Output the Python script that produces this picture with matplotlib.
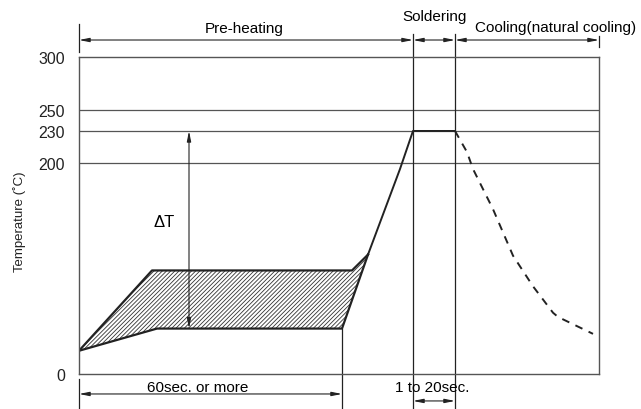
import numpy as np
import matplotlib
matplotlib.use("Agg")
import matplotlib.pyplot as plt

plt.rcParams['font.family'] = ['Liberation Sans', 'DejaVu Sans']
plt.rcParams['hatch.linewidth'] = 0.6

# temperature levels (deg C) shown as reference lines / tick labels
y_ticks = [0, 200, 230, 250, 300]
ref_lines = [200, 230, 250]

# time axis is in arbitrary units (no ticks on the original)
x_end = 520
solder_start = 334
solder_end = 376
preheat_end = 263

# pre-heating band (hatched area)
upper_x = [0, 73, 273, 289]
upper_y = [22, 98, 98, 113]
lower_x = [0, 78, 263, 289]
lower_y = [22, 43, 43, 113]

# ramp up to soldering temperature and hold
ramp_x = [289, 321, 334, 376]
ramp_y = [113, 194, 230, 230]

# natural cooling (dashed)
cool_x = [376, 388, 394, 414, 434, 454, 474, 479, 514]
cool_y = [230, 210, 194, 156, 112, 83, 58, 54, 38]

line_col = '#222222'
grid_col = '#555555'

fig = plt.figure(figsize=(6.41, 4.10), dpi=100)
ax = fig.add_axes([79/641, 35/410, 520/641, 317/410])
ax.set_xlim(0, x_end)
ax.set_ylim(0, 300)

for s in ax.spines.values():
    s.set_color(grid_col)
    s.set_linewidth(1)
ax.set_xticks([])
ax.set_yticks(y_ticks)
ax.tick_params(axis='y', length=0, pad=10, labelsize=11.5, colors='#222222')
# y label placed by hand like the original drawing
fig.text(20/641, 1 - 222/410, 'Temperature (˚C)', rotation=90, ha='center', va='center',
         fontsize=9.5, color='#222222')

for r in ref_lines:
    ax.axhline(r, color=grid_col, lw=0.9)

# hatched pre-heating area
poly_x = upper_x + lower_x[::-1]
poly_y = upper_y + lower_y[::-1]
ax.fill(poly_x, poly_y, facecolor='none', edgecolor='#333333', hatch='////////', lw=0)
ax.plot(upper_x, upper_y, color=line_col, lw=1.6)
ax.plot(lower_x, lower_y, color=line_col, lw=1.6)
ax.plot(ramp_x, ramp_y, color=line_col, lw=1.4)
ax.plot(cool_x, cool_y, color=line_col, lw=1.4, ls=(0, (4, 3.5)))

trans = ax.get_xaxis_transform()
arrow = dict(arrowstyle='<|-|>,head_length=0.6,head_width=0.12', color=line_col,
             lw=0.8, shrinkA=0, shrinkB=0)

# vertical lines of the soldering window
for xv in [solder_start, solder_end]:
    ax.plot([xv, xv], [-0.110, 1.073], color=line_col, lw=0.9, transform=trans, clip_on=False)
ax.plot([0, 0], [1.016, 1.104], color=line_col, lw=0.9, transform=trans, clip_on=False)
ax.plot([x_end, x_end], [1.031, 1.066], color=line_col, lw=0.9, transform=trans, clip_on=False)

# top dimension arrows
top_y = 1.0536
for a, b in [(0, solder_start), (solder_start, solder_end), (solder_end, x_end)]:
    ax.annotate('', xy=(a, top_y), xytext=(b, top_y), xycoords=trans,
                textcoords=trans, arrowprops=arrow, annotation_clip=False)
ax.text(165, 1.0915, 'Pre-heating', transform=trans, ha='center', va='center', fontsize=11)
ax.text(355.6, 1.129, 'Soldering', transform=trans, ha='center', va='center', fontsize=11)
ax.text(477, 1.0946, 'Cooling(natural cooling)', transform=trans, ha='center', va='center', fontsize=11)

# bottom dimension arrows
ax.plot([0, 0], [-0.016, -0.110], color=line_col, lw=0.9, transform=trans, clip_on=False)
ax.plot([preheat_end, preheat_end], [lower_y[2] / 300, -0.110], color=line_col, lw=0.9,
        transform=trans, clip_on=False)
ax.annotate('', xy=(0, -0.063), xytext=(preheat_end, -0.063), xycoords=trans,
            textcoords=trans, arrowprops=arrow, annotation_clip=False)
ax.text(119, -0.041, '60sec. or more', transform=trans, ha='center', va='center', fontsize=11)
ax.annotate('', xy=(solder_start, -0.085), xytext=(solder_end, -0.085), xycoords=trans,
            textcoords=trans, arrowprops=arrow, annotation_clip=False)
ax.text(353, -0.041, '1 to 20sec.', transform=trans, ha='center', va='center', fontsize=11)

# delta T arrow
ax.annotate('', xy=(110, 230), xytext=(110, 43), arrowprops=arrow)
ax.text(85, 144, 'ΔT', ha='center', va='center', fontsize=12)

fig.savefig('out.png', dpi=100)
